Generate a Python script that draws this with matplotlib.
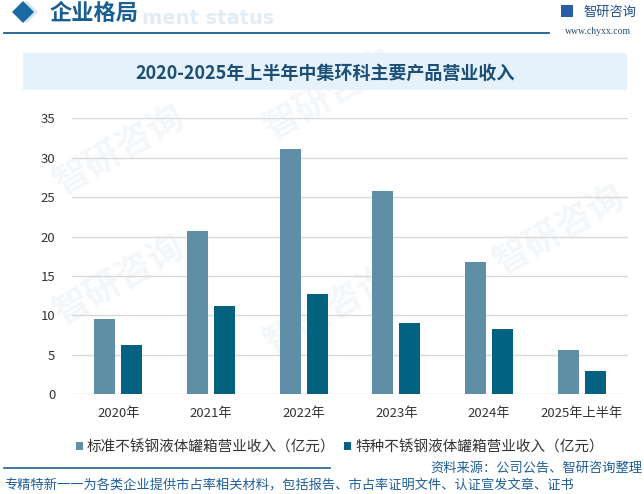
import numpy as np
import matplotlib
matplotlib.use("Agg")
import matplotlib.pyplot as plt
from matplotlib.patches import Rectangle, Polygon
from matplotlib.lines import Line2D

plt.rcParams['font.family'] = ['Noto Sans CJK SC', 'DejaVu Sans']

# data
years = ['2020年', '2021年', '2022年', '2023年', '2024年', '2025年上半年']
standard = [9.5, 20.7, 31.1, 25.8, 16.8, 5.6]
special = [6.2, 11.2, 12.7, 9.0, 8.3, 2.9]
series_names = ['标准不锈钢液体罐箱营业收入（亿元）', '特种不锈钢液体罐箱营业收入（亿元）']
yticks = [0, 5, 10, 15, 20, 25, 30, 35]

W, H = 644, 494
c_std = '#5e8fa7'
c_spe = '#02627f'


def px(x, y):
    return x / W, 1 - y / H


fig = plt.figure(figsize=(W / 100, H / 100), dpi=100)
fig.patch.set_facecolor('white')

# faint watermarks (behind everything)
for wx, wy in [(120, 150), (120, 280), (330, 310), (560, 230), (330, 95)]:
    x, y = px(wx, wy)
    fig.text(x, y, '智研咨询', fontsize=26, color='#f4f7fa', rotation=30,
             ha='center', va='center', fontweight='bold', zorder=-5)

# header
x, y = px(23, 12)
d = 11 / W
dh = 11 / H
fig.patches.append(Polygon([(x + 0.006, y + dh), (x + 0.006 + d, y), (x + 0.006, y - dh), (x + 0.006 - d, y)],
                           closed=True, transform=fig.transFigure, facecolor='#d5e6f3', edgecolor='none'))
fig.patches.append(Polygon([(x, y + dh), (x + d, y), (x, y - dh), (x - d, y)],
                           closed=True, transform=fig.transFigure, facecolor='#1b6aa3', edgecolor='none'))
fig.text(*px(142, 18), 'ment status', fontsize=14, color='#e0edf7', fontweight='bold',
         ha='left', va='center', family=['DejaVu Sans'])
fig.text(*px(50, 13), '企业格局', fontsize=16, color='#1b5f92', fontweight='bold',
         ha='left', va='center')
fig.add_artist(Line2D([4 / W, 549 / W], [1 - 33 / H] * 2, color='#1d5f8c', lw=1.3))
fig.patches.append(Rectangle(px(561, 17), 12 / W, 12 / H, transform=fig.transFigure,
                             facecolor='#2a5da8', edgecolor='none'))
fig.text(*px(583, 12), '智研咨询', fontsize=9.5, color='#1f4f8f', ha='left', va='center')
fig.text(*px(598, 32), 'www.chyxx.com', fontsize=7, color='#2e4f6f', ha='center', va='center',
         family=['Liberation Serif'])

# title box
fig.patches.append(Rectangle(px(23, 90), 604 / W, 37 / H, transform=fig.transFigure,
                             facecolor='#e6f2fb', edgecolor='none'))
fig.text(*px(325, 73), '2020-2025年上半年中集环科主要产品营业收入', fontsize=13,
         color='#1d4f76', fontweight='bold', ha='center', va='center')

# chart
l, b = px(72, 394.3)
ax = fig.add_axes([l, b, (628 - 72) / W, (394.3 - 118.3) / H])
ax.set_facecolor('none')
xs = np.arange(len(years))
bw = 0.227
off = 0.146
ax.bar(xs - off, standard, bw, color=c_std, label=series_names[0], zorder=3)
ax.bar(xs + off, special, bw, color=c_spe, label=series_names[1], zorder=3)
ax.set_xlim(-0.5, len(years) - 0.5)
ax.set_ylim(0, 35)
ax.set_yticks(yticks)
ax.yaxis.grid(True, color='#d9d9d9', lw=1, zorder=0)
ax.set_xticks(xs)
ax.set_xticklabels(years)
for s in ax.spines.values():
    s.set_visible(False)
ax.tick_params(axis='both', length=0, labelsize=9.5, labelcolor='#333333')
ax.tick_params(axis='x', pad=9)
ax.tick_params(axis='y', pad=12)

leg = fig.legend(loc='center', bbox_to_anchor=px(340, 447), ncol=2, frameon=False,
                 fontsize=10.5, handlelength=0.45, handleheight=0.45, handletextpad=0.3,
                 columnspacing=0.6, labelcolor='#333333')

# footer
fig.add_artist(Line2D([4 / W, 330 / W], [1 - 467.5 / H] * 2, color='#1d5f8c', lw=1.2))
fig.text(*px(642, 468), '资料来源：公司公告、智研咨询整理', fontsize=9.5, color='#1f5f9a',
         ha='right', va='center')
fig.text(*px(4, 485), '专精特新一一为各类企业提供市占率相关材料，包括报告、市占率证明文件、认证宣发文章、证书',
         fontsize=9.5, color='#1f5f9a', ha='left', va='center')

fig.savefig('out.png', dpi=100)
